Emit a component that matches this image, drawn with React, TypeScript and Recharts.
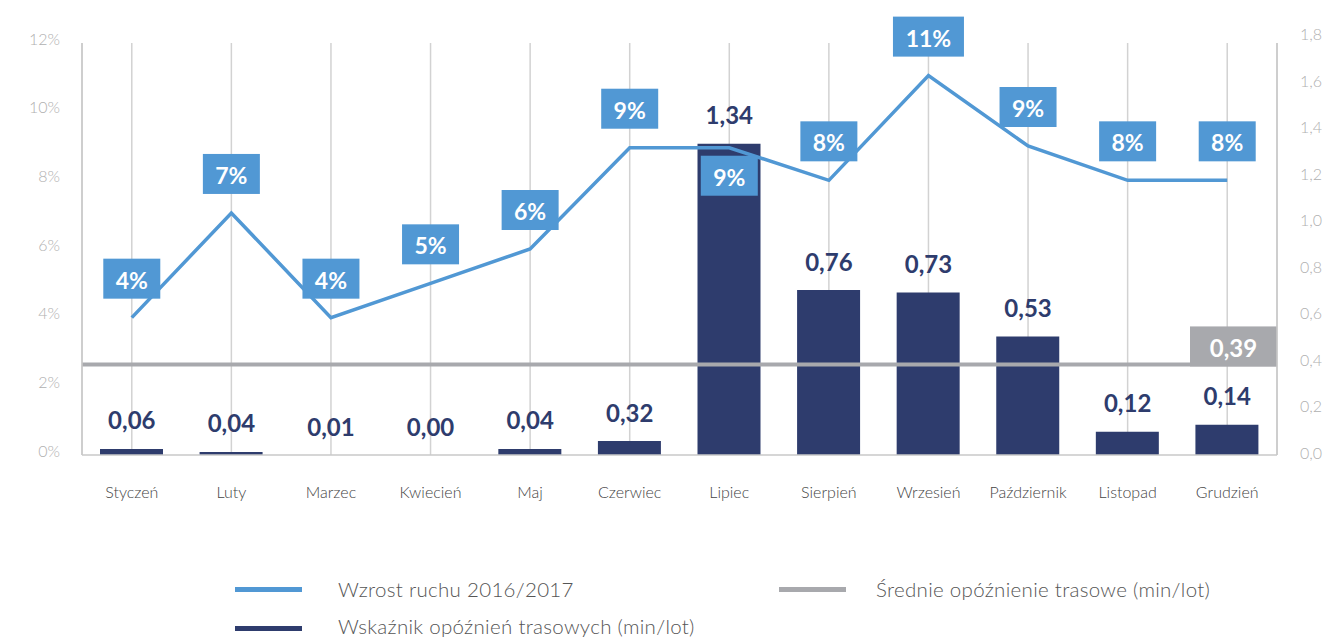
import React from 'react';
import { ComposedChart, Bar, Line, XAxis, YAxis, CartesianGrid, ReferenceLine, LabelList } from 'recharts';

const months = ['Styczeń', 'Luty', 'Marzec', 'Kwiecień', 'Maj', 'Czerwiec', 'Lipiec', 'Sierpień', 'Wrzesień', 'Październik', 'Listopad', 'Grudzień'];
const trafficGrowth = [4.0, 7.05, 4.0, 5.0, 6.0, 8.95, 8.95, 8.0, 11.05, 9.0, 8.0, 8.0];
const delayIndex = [0.026, 0.013, 0, 0, 0.026, 0.06, 1.34, 0.71, 0.7, 0.51, 0.1, 0.13];
const delayLabels = ['0,06', '0,04', '0,01', '0,00', '0,04', '0,32', '1,34', '0,76', '0,73', '0,53', '0,12', '0,14'];
const averageDelay = 0.39;
const averageDelayLabel = '0,39';
const leftTicks = [0, 2, 4, 6, 8, 10, 12];
const rightTicks = [0, 0.2, 0.4, 0.6, 0.8, 1.0, 1.2, 1.4, 1.6, 1.8];
const labelBelowMonths = ['Lipiec'];
const legendItems = [
  { name: 'Wzrost ruchu 2016/2017', color: '#5198d4' },
  { name: 'Średnie opóźnienie trasowe (min/lot)', color: '#a8a9ad' },
  { name: 'Wskaźnik opóźnień trasowych (min/lot)', color: '#2e3c6d' },
];

const data = months.map((m, i) => ({
  month: m,
  growth: trafficGrowth[i],
  delay: delayIndex[i],
  delayLabel: delayLabels[i],
}));

const FONT = "Lato, 'Open Sans', sans-serif";
const BLUE = '#5198d4';
const NAVY = '#2e3c6d';
const GRAY = '#a8a9ad';
const AXIS_GRAY = '#c9c9c9';
const TICK_GRAY = '#b0b0b0';

const LeftTick = (props: any) => {
  const { x, y, payload } = props;
  return (
    <text x={x} y={y - 5} textAnchor="end" dominantBaseline="central" fill={TICK_GRAY} fontSize={16} fontFamily={FONT} fontWeight={300}>
      {`${payload.value}%`}
    </text>
  );
};

const RightTick = (props: any) => {
  const { x, y, payload } = props;
  return (
    <text x={x} y={y - 3} textAnchor="start" dominantBaseline="central" fill={TICK_GRAY} fontSize={16} fontFamily={FONT} fontWeight={300}>
      {Number(payload.value).toFixed(1).replace('.', ',')}
    </text>
  );
};

const MonthTick = (props: any) => {
  const { x, y, payload } = props;
  return (
    <text x={x} y={y + 30} textAnchor="middle" dominantBaseline="central" fill="#444444" fontSize={16} fontWeight={300} fontFamily={FONT}>
      {payload.value}
    </text>
  );
};

const BarValueLabel = (props: any) => {
  const { x, y, index } = props;
  return (
    <text x={x} y={y - 29} textAnchor="middle" dominantBaseline="central" fill={NAVY} fontSize={24} fontWeight={700} fontFamily={FONT}>
      {delayLabels[index]}
    </text>
  );
};

const GrowthLabel = (props: any) => {
  const { x, y, index, value } = props;
  const text = `${Math.round(value)}%`;
  const w = 14 * text.length + 29;
  const h = 40;
  const below = labelBelowMonths.includes(months[index]);
  const cy = below ? y + 28 : y - 39;
  return (
    <g>
      <rect x={x - w / 2} y={cy - h / 2} width={w} height={h} fill={BLUE} />
      <text x={x} y={cy + 1} textAnchor="middle" dominantBaseline="central" fill="#ffffff" fontSize={23} fontWeight={700} fontFamily={FONT}>
        {text}
      </text>
    </g>
  );
};

const AverageLabel = (props: any) => {
  const vb = props.viewBox || {};
  const right = (vb.x || 0) + (vb.width || 0);
  const w = 87;
  const h = 40;
  const y = vb.y || 0;
  return (
    <g>
      <rect x={right - w} y={y - h + 2} width={w} height={h} fill={GRAY} />
      <text x={right - w / 2} y={y - h / 2 + 3} textAnchor="middle" dominantBaseline="central" fill="#ffffff" fontSize={24} fontWeight={700} fontFamily={FONT}>
        {averageDelayLabel}
      </text>
    </g>
  );
};

export default function App() {
  return (
    <div style={{ position: 'absolute', left: 0, top: 0, width: 1324, height: 639, background: '#ffffff', fontFamily: FONT }}>
      <ComposedChart width={1324} height={639} data={data} margin={{ top: 43, right: 7, bottom: 154, left: 22 }}>
        <CartesianGrid vertical horizontal={false} stroke="#d2d2d2" strokeWidth={1.5} />
        <XAxis dataKey="month" height={30} axisLine={{ stroke: AXIS_GRAY, strokeWidth: 1.5 }} tickLine={false} tickMargin={0} tick={<MonthTick />} interval={0} />
        <YAxis yAxisId="left" orientation="left" width={60} domain={[0, 12]} ticks={leftTicks} axisLine={{ stroke: AXIS_GRAY, strokeWidth: 1.5 }} tickLine={false} tickMargin={16} tick={<LeftTick />} />
        <YAxis yAxisId="right" orientation="right" width={40} domain={[0, 1.774]} allowDataOverflow ticks={rightTicks} axisLine={{ stroke: AXIS_GRAY, strokeWidth: 1.5 }} tickLine={false} tickMargin={17} tick={<RightTick />} />
        <Bar yAxisId="right" dataKey="delay" fill={NAVY} barSize={63} isAnimationActive={false} />
        <Line yAxisId="right" type="linear" dataKey="delay" stroke="none" strokeWidth={0} dot={false} activeDot={false} legendType="none" isAnimationActive={false}>
          <LabelList dataKey="delayLabel" content={<BarValueLabel />} />
        </Line>
        <ReferenceLine yAxisId="right" y={averageDelay} stroke={GRAY} strokeWidth={4} label={<AverageLabel />} />
        <Line yAxisId="left" type="linear" dataKey="growth" stroke={BLUE} strokeWidth={3.5} dot={false} activeDot={false} isAnimationActive={false}>
          <LabelList dataKey="growth" content={<GrowthLabel />} />
        </Line>
      </ComposedChart>
      {legendItems.map((item, i) => {
        const col = i === 1 ? 1 : 0;
        const row = i === 2 ? 1 : 0;
        const lineX = col === 0 ? 235 : 779;
        const textX = col === 0 ? 338 : 876;
        const cy = row === 0 ? 589 : 626;
        return (
          <React.Fragment key={item.name}>
            <div style={{ position: 'absolute', left: lineX, top: cy - 2.5 + (row === 1 ? 2 : 0), width: 67, height: 5, background: item.color }} />
            <div style={{ position: 'absolute', left: textX, top: cy - 12, height: 24, lineHeight: '24px', fontSize: 20.5, letterSpacing: 0.3, fontWeight: 300, color: '#555555', whiteSpace: 'nowrap', fontFamily: FONT }}>
              {item.name}
            </div>
          </React.Fragment>
        );
      })}
    </div>
  );
}
